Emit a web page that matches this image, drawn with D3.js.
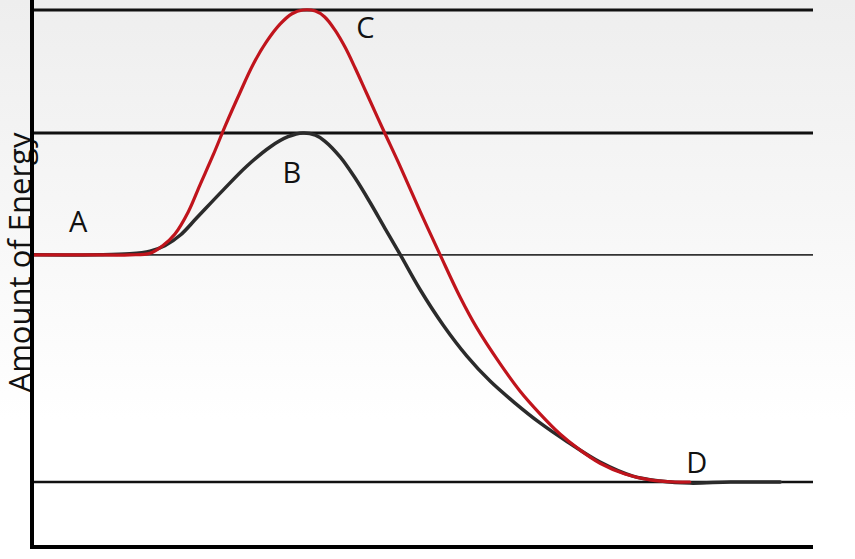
<!DOCTYPE html>
<html>
<head>
<meta charset="utf-8">
<script src="https://cdn.jsdelivr.net/npm/d3@7"></script>
<style>
  html, body { margin: 0; padding: 0; overflow: hidden; background: #fff; }
</style>
</head>
<body>
<div id="chart"></div>
<script>
// energy levels (C, B, A, D) on a 0-100 energy scale
const levelNames = ["C", "B", "A", "D"];
const levelEnergy = [100, 77.1, 54.4, 12.1];

// label anchors (reaction progress 0-100, energy 0-100)
const labelNames = ["A", "B", "C", "D"];
const labelProgress = [5.8, 33.2, 42.6, 85.1];
const labelEnergy = [58.7, 67.8, 94.8, 13.8];

// black curve (lower barrier, peak B)
const lowProgress = [0, 8.6, 12.4, 15.0, 16.9, 18.9, 21.0, 24.4, 27.4, 30.4, 32.7, 34.6, 36.2, 37.4, 39.4, 41.3, 43.2, 45.1, 47.1, 49.6, 52.6, 55.6, 58.6, 61.8, 65.0, 68.5, 72.7, 76.9, 80.4, 84.2, 89.4, 95.8];
const lowEnergy = [54.4, 54.4, 54.6, 55.1, 56.1, 58.1, 61.3, 66.5, 70.9, 74.5, 76.4, 77.1, 76.7, 75.6, 72.6, 68.7, 64.2, 59.4, 54.4, 48.0, 41.3, 35.6, 30.9, 26.8, 23.1, 19.6, 15.8, 13.2, 12.3, 11.9, 12.1, 12.1];

// red curve (higher barrier, peak C)
const highProgress = [0, 7.3, 12.4, 15.0, 16.7, 18.2, 19.9, 21.4, 23.1, 24.7, 26.5, 28.2, 29.9, 31.7, 33.2, 34.6, 36.2, 37.4, 38.7, 40.0, 41.3, 42.8, 44.9, 47.1, 49.6, 52.2, 54.7, 56.9, 59.9, 62.4, 65.0, 67.6, 70.1, 72.7, 75.9, 79.1, 82.3, 84.2];
const highEnergy = [54.4, 54.4, 54.4, 54.7, 56.2, 58.3, 62.4, 67.4, 73.0, 78.6, 84.5, 89.8, 94.0, 97.4, 99.3, 100, 99.8, 98.7, 96.3, 93.1, 89.2, 84.4, 77.7, 70.8, 62.6, 54.4, 46.7, 40.8, 34.1, 29.1, 24.8, 21.0, 18.1, 15.6, 13.6, 12.5, 12.1, 12.1];

const width = 855;
const height = 559;
const margin = { top: 10, right: 42, bottom: 12, left: 33 };

const svg = d3
  .select("#chart")
  .append("svg")
  .attr("width", width)
  .attr("height", height);

// soft grey-to-white background
const grad = svg.append("defs").append("linearGradient")
  .attr("id", "bg")
  .attr("x1", 0).attr("y1", 0).attr("x2", 0).attr("y2", 1);
grad.append("stop").attr("offset", "0%").attr("stop-color", "#eeeeee");
grad.append("stop").attr("offset", "75%").attr("stop-color", "#ffffff");
grad.append("stop").attr("offset", "100%").attr("stop-color", "#ffffff");
svg.append("rect")
  .attr("width", width)
  .attr("height", height)
  .attr("fill", "url(#bg)");

const x = d3.scaleLinear().domain([0, 100]).range([margin.left, width - margin.right]);
const y = d3.scaleLinear().domain([0, 100]).range([height - margin.bottom, margin.top]);

// horizontal level lines
const levelWidth = [3, 3, 1.8, 2.5];
const levelColor = ["#111", "#111", "#333", "#111"];
svg.selectAll("line.level")
  .data(levelEnergy)
  .join("line")
  .attr("class", "level")
  .attr("x1", x(0))
  .attr("x2", x(100))
  .attr("y1", (d) => y(d))
  .attr("y2", (d) => y(d))
  .attr("stroke", (d, i) => levelColor[i])
  .attr("stroke-width", (d, i) => levelWidth[i]);

// y axis label
svg.append("text")
  .attr("transform", `translate(31,${(y(0) + y(100)) / 2 - 16}) rotate(-90)`)
  .attr("text-anchor", "middle")
  .attr("font-family", "'Open Sans', sans-serif")
  .attr("font-size", 31)
  .attr("fill", "#111")
  .text("Amount of Energy");

// curves
const line = d3.line()
  .x((d) => x(d[0]))
  .y((d) => y(d[1]))
  .curve(d3.curveCatmullRom.alpha(0.5));

const lowData = lowProgress.map((p, i) => [p, lowEnergy[i]]);
const highData = highProgress.map((p, i) => [p, highEnergy[i]]);

svg.append("path")
  .datum(lowData)
  .attr("d", line)
  .attr("fill", "none")
  .attr("stroke", "#2b2b2b")
  .attr("stroke-width", 3.5)
  .attr("stroke-linecap", "round");

svg.append("path")
  .datum(highData)
  .attr("d", line)
  .attr("fill", "none")
  .attr("stroke", "#c0141c")
  .attr("stroke-width", 3.2)
  .attr("stroke-linecap", "round");

// axes (plain lines, no ticks)
svg.append("line")
  .attr("x1", x(0) - 1).attr("x2", x(0) - 1)
  .attr("y1", 0).attr("y2", y(0) + 2)
  .attr("stroke", "#000").attr("stroke-width", 4);
svg.append("line")
  .attr("x1", x(0) - 3).attr("x2", x(100))
  .attr("y1", y(0)).attr("y2", y(0))
  .attr("stroke", "#000").attr("stroke-width", 4);

// point labels
svg.selectAll("text.pt")
  .data(labelNames)
  .join("text")
  .attr("class", "pt")
  .attr("x", (d, i) => x(labelProgress[i]))
  .attr("y", (d, i) => y(labelEnergy[i]))
  .attr("text-anchor", "middle")
  .attr("font-family", "'Open Sans', sans-serif")
  .attr("font-size", 29)
  .attr("fill", "#111")
  .text((d) => d);
</script>
</body>
</html>
